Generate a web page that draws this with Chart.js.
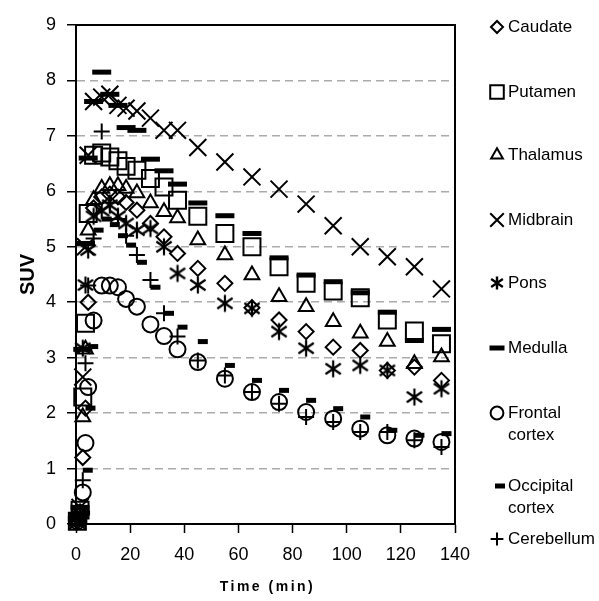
<!DOCTYPE html>
<html>
<head>
<meta charset="utf-8">
<script src="https://cdn.jsdelivr.net/npm/chart.js@4.4.0/dist/chart.umd.min.js"></script>
<style>
  html, body { margin: 0; padding: 0; background: #fff; }
  #chart { display: block; }
</style>
</head>
<body>
<canvas id="chart" width="599" height="601"></canvas>
<script>
// frame mid-times (min)
const times = [0.5, 1.5, 2.5, 3.5, 4.5, 6.5, 9.5, 12.5, 15.5, 18.5, 22.5, 27.5, 32.5, 37.5, 45, 55, 65, 75, 85, 95, 105, 115, 125, 135];

// SUV per region
const caudate    = [0.05, 0.2, 1.2, 2.09, 4.0, 5.7, 5.9, 5.95, 5.9, 5.8, 5.66, 5.42, 5.18, 4.88, 4.61, 4.34, 3.9, 3.68, 3.47, 3.19, 3.13, 2.77, 2.83, 2.59];
const putamen    = [0.05, 0.25, 2.29, 3.62, 5.6, 6.65, 6.69, 6.62, 6.55, 6.45, 6.38, 6.23, 6.08, 5.84, 5.55, 5.24, 5.0, 4.64, 4.34, 4.2, 4.08, 3.68, 3.48, 3.25];
const thalamus   = [0.05, 0.2, 1.93, 3.15, 5.3, 5.85, 6.05, 6.1, 6.1, 6.05, 5.97, 5.79, 5.63, 5.52, 5.12, 4.85, 4.49, 4.1, 3.92, 3.65, 3.44, 3.29, 2.89, 3.01];
const midbrain   = [0.05, 0.3, 2.65, 5.0, 6.65, 7.62, 7.7, 7.75, 7.55, 7.5, 7.45, 7.32, 7.1, 7.1, 6.79, 6.53, 6.26, 6.04, 5.77, 5.38, 5.0, 4.82, 4.64, 4.24];
const pons       = [0.05, 0.2, 3.17, 4.31, 4.94, 5.55, 5.65, 5.75, 5.55, 5.42, 5.3, 5.33, 5.0, 4.52, 4.31, 3.98, 3.89, 3.47, 3.17, 2.8, 2.86, 2.77, 2.29, 2.44];
const medulla    = [0.1, 0.3, 3.15, 5.06, 6.6, 7.62, 8.15, 7.75, 7.55, 7.15, 7.1, 6.58, 6.37, 6.13, 5.79, 5.56, 5.24, 4.8, 4.49, 4.37, 4.17, 3.82, 3.31, 3.51];
const frontal    = [0.05, 0.2, 0.57, 1.46, 2.47, 3.67, 4.3, 4.3, 4.27, 4.06, 3.92, 3.6, 3.39, 3.15, 2.92, 2.62, 2.38, 2.2, 2.02, 1.9, 1.72, 1.6, 1.54, 1.48];
const occipital  = [0.05, 0.2, 0.97, 2.09, 3.2, 5.3, 5.5, 5.4, 5.2, 5.03, 4.72, 4.27, 3.8, 3.55, 3.29, 2.86, 2.59, 2.41, 2.23, 2.08, 1.93, 1.69, 1.6, 1.63];
const cerebellum = [0.05, 0.2, 0.79, 2.9, 4.3, 5.15, 7.08, 5.8, 5.5, 5.2, 4.85, 4.4, 3.8, 3.38, 2.95, 2.68, 2.38, 2.17, 1.93, 1.84, 1.66, 1.66, 1.51, 1.39];

const regionNames = ['Caudate', 'Putamen', 'Thalamus', 'Midbrain', 'Pons', 'Medulla', ['Frontal', 'cortex'], ['Occipital', 'cortex'], 'Cerebellum'];
const xTicks = [0, 20, 40, 60, 80, 100, 120, 140];
const yTicks = [0, 1, 2, 3, 4, 5, 6, 7, 8, 9];

const FONT = '"Liberation Sans", Arial, Helvetica, sans-serif';

// asterisk marker (x with a vertical stroke), not one of the built-in styles
function makeAsterisk(size, lw) {
    const c = document.createElement('canvas');
    c.width = size; c.height = size;
    const g = c.getContext('2d');
    g.strokeStyle = '#000';
    g.lineWidth = lw;
    const m = size / 2, a = size / 2 - 1.5;
    g.beginPath();
    g.moveTo(m - a * 0.9, m - a * 0.62); g.lineTo(m + a * 0.9, m + a * 0.62);
    g.moveTo(m + a * 0.9, m - a * 0.62); g.lineTo(m - a * 0.9, m + a * 0.62);
    g.moveTo(m, m - a); g.lineTo(m, m + a);
    g.stroke();
    return c;
}
const asterisk = makeAsterisk(20, 2.2);
const asteriskSmall = makeAsterisk(16, 2.4);

const markers = [
    { pointStyle: 'rectRot', pointRadius: 7.5, pointBorderWidth: 2 },
    { pointStyle: 'rect', pointRadius: 12, pointBorderWidth: 2 },
    { pointStyle: 'triangle', pointRadius: 8.5, pointBorderWidth: 2 },
    { pointStyle: 'crossRot', pointRadius: 12, pointBorderWidth: 2 },
    { pointStyle: asterisk, pointRadius: 9, pointBorderWidth: 2 },
    { pointStyle: 'line', pointRadius: 9.5, pointBorderWidth: 5 },
    { pointStyle: 'circle', pointRadius: 8, pointBorderWidth: 2 },
    { pointStyle: 'dash', pointRadius: 10, pointBorderWidth: 5 },
    { pointStyle: 'cross', pointRadius: 8, pointBorderWidth: 2 }
];

const series = [caudate, putamen, thalamus, midbrain, pons, medulla, frontal, occipital, cerebellum];

const datasets = series.map((vals, i) => ({
    label: regionNames[i],
    data: times.map((t, k) => ({ x: t, y: vals[k] })),
    showLine: false,
    borderColor: '#000',
    backgroundColor: 'rgba(0,0,0,0)',
    pointBorderColor: '#000',
    pointBackgroundColor: 'rgba(0,0,0,0)',
    clip: false,
    ...markers[i]
}));

// legend rows on the right, two-line names take more room
const legendRows = [27, 92, 155, 220, 283, 348, 413, 486, 539];

const sideLegend = {
    id: 'sideLegend',
    afterDraw(chart) {
        const ctx = chart.ctx;
        ctx.save();
        chart.data.datasets.forEach((ds, i) => {
            const y = legendRows[i];
            ctx.strokeStyle = '#000';
            ctx.fillStyle = 'rgba(0,0,0,0)';
            ctx.lineWidth = ds.pointBorderWidth;
            let style = ds.pointStyle;
            if (style === asterisk) style = asteriskSmall;
            let r = ds.pointRadius * 0.8;
            let mx = 497;
            if (ds.pointStyle === 'dash') { mx = 495; r = 10; }
            if (ds.pointStyle === 'line') { r = 7.5; ctx.lineWidth = 5; }
            Chart.helpers.drawPoint(ctx, { pointStyle: style, radius: r, borderWidth: ctx.lineWidth, rotation: 0 }, mx, y);
            ctx.fillStyle = '#000';
            ctx.font = '17px ' + FONT;
            ctx.textBaseline = 'middle';
            ctx.textAlign = 'left';
            const lines = Array.isArray(ds.label) ? ds.label : [ds.label];
            lines.forEach((s, j) => ctx.fillText(s, 508, y + j * 22));
        });

        // x axis title, letter-spaced
        ctx.fillStyle = '#000';
        ctx.font = 'bold 14px ' + FONT;
        ctx.letterSpacing = '2.5px';
        ctx.textAlign = 'center';
        ctx.textBaseline = 'middle';
        const a = chart.chartArea;
        ctx.fillText('Time (min)', (a.left + a.right) / 2 + 2, 587);
        ctx.restore();
    }
};

// closes the plot box on top and right
const plotFrame = {
    id: 'plotFrame',
    beforeDatasetsDraw(chart) {
        const { ctx, chartArea: a } = chart;
        ctx.save();
        ctx.strokeStyle = '#000';
        ctx.lineWidth = 2;
        ctx.beginPath();
        ctx.moveTo(a.left, a.top);
        ctx.lineTo(a.right, a.top);
        ctx.lineTo(a.right, a.bottom);
        ctx.stroke();
        ctx.restore();
    }
};

new Chart(document.getElementById('chart'), {
    type: 'scatter',
    data: { datasets: datasets },
    options: {
        responsive: false,
        animation: false,
        devicePixelRatio: 1,
        layout: { padding: { top: 25, right: 144, left: 0, bottom: 0 } },
        plugins: {
            legend: { display: false },
            tooltip: { enabled: false }
        },
        scales: {
            x: {
                type: 'linear',
                min: 0,
                max: 140,
                afterBuildTicks: s => { s.ticks = xTicks.map(v => ({ value: v })); },
                afterFit: s => { s.height = 77; },
                ticks: { color: '#000', font: { size: 18, family: FONT }, padding: 11, maxRotation: 0 },
                grid: { drawOnChartArea: false, drawTicks: true, tickLength: 9, tickColor: '#000', tickWidth: 1.5 },
                border: { display: true, color: '#000', width: 2 }
            },
            y: {
                min: 0,
                max: 9,
                afterBuildTicks: s => { s.ticks = yTicks.map(v => ({ value: v })); },
                afterFit: s => { s.width = 76; },
                ticks: { color: '#000', font: { size: 18, family: FONT }, padding: 11 },
                grid: { color: '#ababab', lineWidth: 1.5, tickLength: 9, tickColor: '#000', tickWidth: 1.5 },
                border: { display: true, color: '#000', width: 2, dash: [8, 5] },
                title: { display: true, text: 'SUV', color: '#000', font: { size: 20, weight: 'bold', family: FONT }, padding: { top: 16, bottom: 0 } }
            }
        }
    },
    plugins: [plotFrame, sideLegend]
});
</script>
</body>
</html>
